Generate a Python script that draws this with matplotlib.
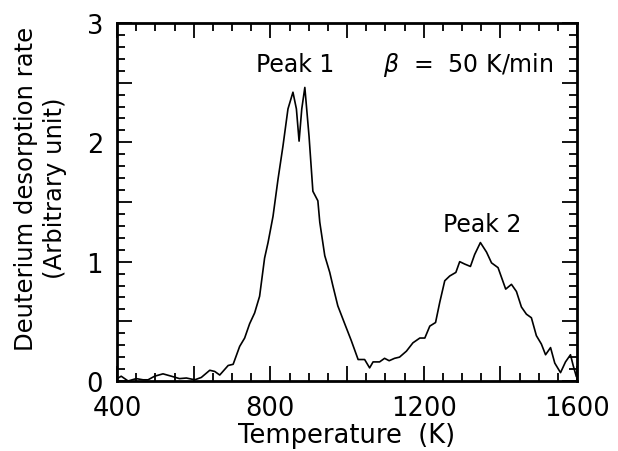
import matplotlib
matplotlib.use("Agg")
import matplotlib.pyplot as plt
from matplotlib.ticker import MultipleLocator

plt.rcParams['font.family'] = ['DejaVu Sans']

# temperature (K) and desorption rate
temp = [400, 411, 429, 450, 468, 481, 498, 520, 542, 563, 581, 603, 620, 642,
        655, 668, 690, 703, 720, 733, 746, 759, 772, 785, 794, 807, 820, 833,
        846, 859, 868, 875, 882, 890, 901, 911, 924, 929, 942, 955, 963, 976,
        994, 1011, 1029, 1046, 1059, 1068, 1085, 1098, 1110, 1124, 1137, 1155,
        1172, 1190, 1203, 1216, 1231, 1242, 1255, 1268, 1284, 1294, 1307, 1322,
        1333, 1348, 1364, 1377, 1394, 1414, 1429, 1442, 1455, 1468, 1481, 1494,
        1507, 1518, 1531, 1542, 1557, 1570, 1583, 1590, 1598]
rate = [0.02, 0.04, 0.00, 0.02, 0.01, 0.01, 0.04, 0.06, 0.04, 0.02, 0.025, 0.01,
        0.03, 0.09, 0.08, 0.05, 0.13, 0.14, 0.29, 0.36, 0.48, 0.57, 0.71, 1.03,
        1.16, 1.38, 1.69, 1.97, 2.28, 2.42, 2.28, 2.01, 2.28, 2.46, 2.05, 1.59,
        1.51, 1.33, 1.05, 0.91, 0.80, 0.63, 0.48, 0.34, 0.18, 0.18, 0.11, 0.16,
        0.16, 0.19, 0.17, 0.19, 0.20, 0.25, 0.32, 0.36, 0.36, 0.46, 0.49, 0.66,
        0.84, 0.88, 0.91, 1.00, 0.98, 0.96, 1.06, 1.16, 1.08, 0.99, 0.95, 0.77,
        0.81, 0.75, 0.62, 0.56, 0.53, 0.38, 0.31, 0.22, 0.28, 0.15, 0.07, 0.16,
        0.22, 0.13, 0.04]

xticks = [400, 600, 800, 1000, 1200, 1400, 1600]
xticklabels = ['400', '', '800', '', '1200', '', '1600']
yticks = [0, 0.5, 1, 1.5, 2, 2.5, 3]
yticklabels = ['0', '', '1', '', '2', '', '3']

fig = plt.figure(figsize=(6.18, 4.52), dpi=100)
ax = fig.add_axes([117 / 618, 1 - 382 / 452, 460 / 618, 358 / 452])

ax.plot(temp, rate, color='black', lw=1.2)
ax.set_xlim(400, 1600)
ax.set_ylim(0, 3)

ax.set_xticks(xticks, xticklabels)
ax.set_yticks(yticks, yticklabels)
ax.xaxis.set_minor_locator(MultipleLocator(50))
ax.yaxis.set_minor_locator(MultipleLocator(0.1))
ax.tick_params(which='both', direction='in', top=True, right=True, width=1.3)
ax.tick_params(which='major', length=11, labelsize=18.5)
ax.tick_params(axis='x', which='major', pad=10)
ax.tick_params(axis='y', which='major', pad=10)
ax.tick_params(which='minor', length=6)
for s in ax.spines.values():
    s.set_linewidth(2)

ax.set_xlabel('Temperature  (K)', fontsize=18.5)
ax.xaxis.set_label_coords(0.5, -0.115)
ax.set_ylabel('Deuterium desorption rate\n(Arbitrary unit)', fontsize=17.5,
              linespacing=1.3)
ax.yaxis.set_label_coords(-0.108, 0.54)

ax.text(864, 2.60, 'Peak 1', fontsize=17, ha='center', va='baseline')
ax.text(1352, 1.257, 'Peak 2', fontsize=17, ha='center', va='baseline')
ax.text(1094, 2.60, r'$\beta$  =  50 K/min', fontsize=17, ha='left',
        va='baseline')

fig.savefig('out.png', dpi=100)
